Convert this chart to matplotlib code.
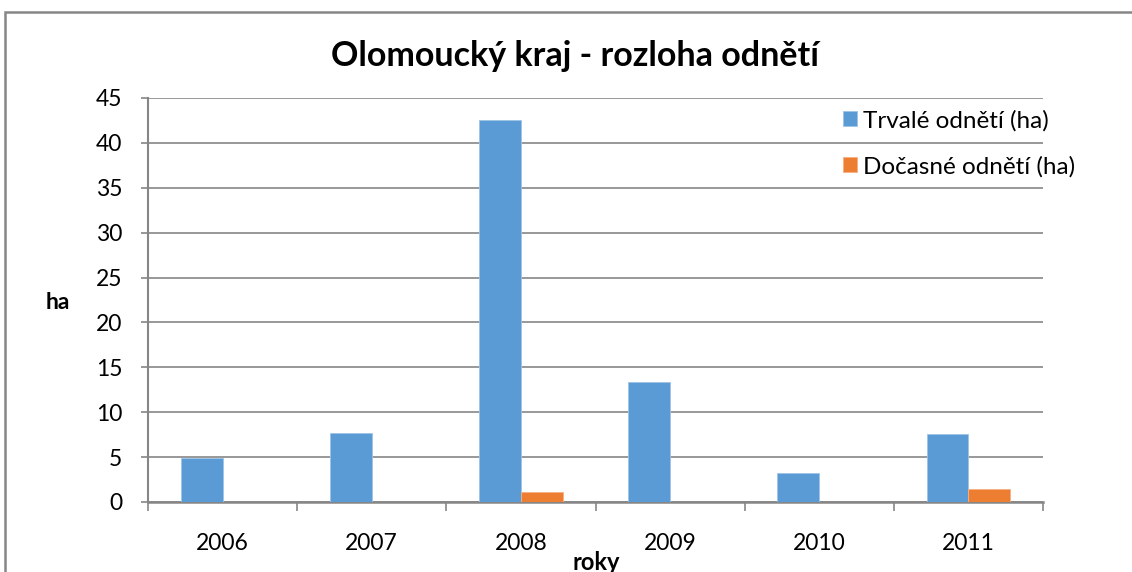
import matplotlib
matplotlib.use("Agg")
import matplotlib.pyplot as plt
from matplotlib.patches import Rectangle
import numpy as np

plt.rcParams['font.family'] = ['Lato', 'DejaVu Sans']

years = ["2006", "2007", "2008", "2009", "2010", "2011"]
trvale = [4.9, 7.7, 42.5, 13.4, 3.2, 7.6]
docasne = [0.0, 0.0, 1.1, 0.0, 0.0, 1.5]
series_names = ["Trvalé odnětí (ha)", "Dočasné odnětí (ha)"]
title = "Olomoucký kraj - rozloha odnětí"
yticks = [0, 5, 10, 15, 20, 25, 30, 35, 40, 45]

W, H = 1132, 572
fig = plt.figure(figsize=(W / 100, H / 100), dpi=100)
fig.patch.set_facecolor("white")

ax = fig.add_axes([148 / W, 1 - 502 / H, (1043 - 148) / W, (502 - 98) / H])

x = np.arange(len(years))
bw = 0.28
grid_c = "#868686"
blue = "#5B9BD5"
orange = "#ED7D31"

ax.bar(x - bw / 2, trvale, bw, color=blue, label=series_names[0], zorder=3,
       edgecolor="#9DC3E6", linewidth=0.6)
ax.bar(x + bw / 2, docasne, bw, color=orange, label=series_names[1], zorder=3,
       edgecolor="#F4B183", linewidth=0.6)

ax.set_xlim(-0.5, len(years) - 0.5)
ax.set_ylim(0, 45)
ax.set_yticks(yticks)
ax.set_yticklabels([str(v) for v in yticks], fontsize=16.5)
ax.yaxis.grid(True, color=grid_c, linewidth=1.2, zorder=0)
ax.set_axisbelow(True)

ax.set_xticks(x)
ax.set_xticklabels(years, fontsize=16.5)
ax.set_xticks(np.arange(len(years) + 1) - 0.5, minor=True)
ax.tick_params(axis="x", which="major", length=0, pad=22)
ax.tick_params(axis="x", which="minor", length=6.5, color=grid_c, width=1.2)
ax.tick_params(axis="y", length=5, color=grid_c, width=1.2, pad=13.5)

for s in ["top", "right"]:
    ax.spines[s].set_visible(False)
ax.spines["left"].set_color(grid_c)
ax.spines["bottom"].set_color(grid_c)
ax.spines["left"].set_linewidth(1.5)
ax.spines["bottom"].set_linewidth(1.8)

fig.text(575.5 / W, 1 - 56 / H, title, fontsize=24.5, fontweight="bold",
         ha="center", va="center")
fig.text(58 / W, 1 - 302 / H, "ha", fontsize=16.5, fontweight="bold",
         ha="center", va="center")
fig.text(596 / W, 1 - 570 / H, "roky", fontsize=17, fontweight="bold",
         ha="center", va="baseline")

leg = ax.legend(loc="upper left", bbox_to_anchor=(843 / W, 1 - 110 / H),
                bbox_transform=fig.transFigure, frameon=False, fontsize=17.5,
                handlelength=0.58, handleheight=0.58, handletextpad=0.25,
                labelspacing=1.0, borderaxespad=0, borderpad=0)

fig.patches.append(Rectangle((5 / W, -0.1), 1.2, 1 - 12 / H + 0.1,
                             transform=fig.transFigure, fill=False,
                             edgecolor=grid_c, linewidth=1.8))

fig.savefig("out.png", dpi=100)
